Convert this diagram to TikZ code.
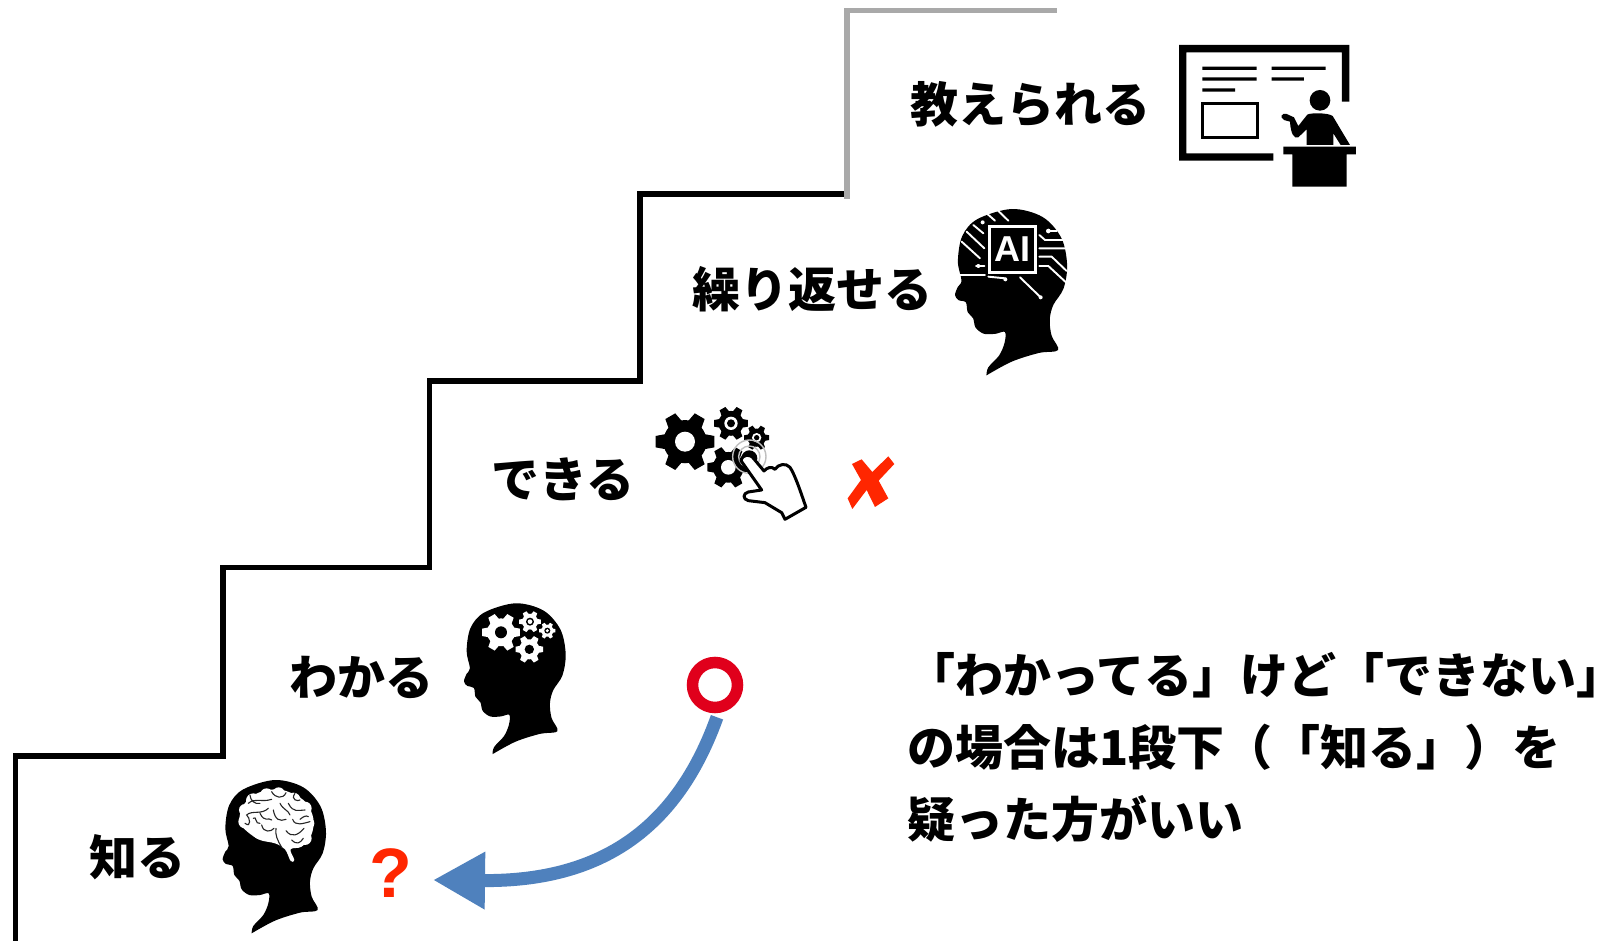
\documentclass[tikz,border=0pt]{standalone}
\usepackage{fontspec}
\setmainfont{Noto Sans CJK JP}
\newfontfamily\haltfont{Noto Sans CJK JP}[RawFeature=+halt]
\newfontfamily\latinb{Liberation Sans}
\usetikzlibrary{arrows.meta}
\definecolor{bluearrow}{HTML}{4F81BD}
\definecolor{redmark}{HTML}{FF2600}
\definecolor{redring}{HTML}{E0001B}
\definecolor{graystep}{HTML}{A9A9A9}
\tikzset{
  lbl/.style={font=\fontsize{48}{72}\selectfont\bfseries, inner sep=0pt, anchor=center},
  stairline/.style={line width=5.4pt, line join=miter},
}
% head silhouette, drawn in 3x crop units
\newcommand{\headshape}{%
  \fill[black] plot[smooth, tension=.55] coordinates {(155,520)(160,498)(190,465)(205,430)(206,400)(180,405)(148,405)(125,388)(118,362)(103,345)(98,318)(78,312)(68,298)(76,275)(86,258)(76,205)(88,135)(130,88)(225,60)(310,82)(362,140)(378,215)(368,280)(340,325)(330,365)(335,410)(353,450)(300,458)(225,482)(155,520)};
}
% #1 x #2 y #3 outer R #4 colour
\newcommand{\cog}[4]{%
  \begin{scope}[shift={(#1,#2)}]
    \fill[#4] (0,0) circle ({#3*.72});
    \foreach \a in {0,60,...,300}{
      \fill[#4, rotate=\a] ({#3*.6},{-#3*.26}) -- ({#3*.98},{-#3*.19}) -- ({#3*.98},{#3*.19}) -- ({#3*.6},{#3*.26}) -- cycle;
    }
  \end{scope}
}
\begin{document}
\begin{tikzpicture}[x=1pt,y=-1pt]
\useasboundingbox (0,0) rectangle (1610,941);
\fill[white] (0,0) rectangle (1610,941);
% stairs
\draw[stairline] (15.5,941) -- (15.5,756) -- (223,756) -- (223,567.5) -- (429.5,567.5) -- (429.5,381) -- (640,381) -- (640,194) -- (847,194);
\draw[line width=5.4pt, graystep] (847,199) -- (847,10.5) -- (1057,10.5);
% labels
\node[lbl] (t1) at (137,857) {知る};
\node[lbl] (t2) at (361,677) {わかる};
\node[lbl] (t3) at (563,479) {できる};
\node[lbl] (t4) at (812,289) {繰り返せる};
\node[lbl] (t5) at (1030,104) {教えられる};
\node[font=\fontsize{48}{72}\selectfont\bfseries, inner sep=0pt, anchor=north west, align=left] (para) at (907,652) {「わかってる」けど「できない{\haltfont\bfseries 」}\\の場合は1段下（「知る」）を\\疑った方がいい};
% head 1: brain
\begin{scope}[shift={(200,760)},x=.3333pt,y=-.3333pt]
  \headshape
  \fill[white] plot[smooth cycle, tension=.6] coordinates {(118,178)(128,140)(152,112)(185,95)(235,88)(280,102)(318,128)(340,175)(334,225)(305,260)(272,268)(283,300)(272,303)(255,268)(225,250)(175,238)(128,202)};
  \fill[white] (135,150) circle (18) (160,122) circle (22) (200,105) circle (20) (236,100) circle (18) (280,120) circle (22) (315,145) circle (20) (325,190) circle (18) (315,235) circle (20) (135,185) circle (20) (180,218) circle (20);
  \draw[black!85, line width=1.1pt, line cap=round] 
    (145,130) .. controls (165,112) and (185,128) .. (215,118)
    (215,95) .. controls (225,115) and (250,118) .. (258,98)
    (135,190) .. controls (155,205) and (150,172) .. (140,165) .. controls (155,150) and (185,165) .. (205,145)
    (220,150) .. controls (225,180) and (240,185) .. (258,178)
    (185,195) .. controls (190,220) and (215,215) .. (222,205)
    (228,205) .. controls (225,225) and (232,240) .. (245,262)
    (265,130) .. controls (280,160) and (295,150) .. (315,150)
    (278,178) .. controls (285,200) and (310,190) .. (330,185)
    (258,212) .. controls (275,235) and (295,225) .. (312,205)
    (275,240) .. controls (290,255) and (300,250) .. (310,235)
    (160,175) .. controls (170,165) and (165,195) .. (180,190)
    (180,160) .. controls (195,190) and (205,170) .. (215,180)
    (285,100) .. controls (270,120) and (295,125) .. (300,120)
    (240,130) .. controls (250,150) and (265,150) .. (270,165)
    (150,105) .. controls (150,120) and (165,135) .. (180,130)
    (300,178) .. controls (310,170) and (318,165) .. (325,170);
\end{scope}
% head 2: gears
\begin{scope}[shift={(441.7,583.6)},x=.328pt,y=-.328pt]
  \headshape
\end{scope}
\begin{scope}[shift={(440,590)},x=.3333pt,y=-.3333pt]
  \cog{183}{127}{58}{white}
  \fill[black] (183,127) circle (18);
  \cog{270}{95}{33}{white}
  \fill[black] (270,95) circle (12); \fill[white] (270,95) circle (7);
  \cog{322}{122}{25}{white}
  \fill[black] (322,122) circle (9); \fill[white] (322,122) circle (5);
  \cog{268}{178}{42}{white}
  \fill[black] (268,178) circle (14);
\end{scope}
% gears and hand
\begin{scope}[shift={(640,390)},x=.3333pt,y=-.3333pt]
  \cog{135}{155}{90}{black}
  \fill[white] (135,155) circle (30);
  \cog{273}{100}{52}{black}
  \fill[white] (273,100) circle (20); \fill[black] (273,100) circle (12);
  \cog{350}{143}{38}{black}
  \fill[white] (350,143) circle (14); \fill[black] (350,143) circle (8);
  \cog{265}{232}{64}{black}
  \fill[white] (265,232) circle (22);
  \draw[gray!50, line width=1.4pt] (328,200) circle (50);
  \draw[gray!50, line width=1.4pt] (328,200) circle (32);
  \fill[black] (328,205) circle (24);
  \filldraw[fill=white, draw=black, line width=3pt, line join=round] (303,212) .. controls (308,192) and (330,190) .. (342,207) -- (372,243) .. controls (382,232) and (395,228) .. (405,238) .. controls (415,222) and (438,218) .. (450,232) .. controls (465,255) and (480,300) .. (498,352) -- (435,388) -- (425,368) -- (375,338) -- (325,332) .. controls (308,328) and (308,310) .. (325,306) -- (365,300) -- cycle;
  % cross
  \fill[redmark] (636,222) -- (665,208) -- (697,246) -- (745,199) -- (763,222) -- (716,272) -- (745,325) -- (705,351) -- (680,300) -- (637,357) -- (623,325) -- (663,270) -- cycle;
\end{scope}
% head 3: AI
\begin{scope}[shift={(930.4,187.3)},x=.3617pt,y=-.3617pt]
  \headshape
\end{scope}
\begin{scope}[shift={(940,200)},x=.3333pt,y=-.3333pt]
  \draw[white, line width=3.2pt] (148,80) rectangle (286,218);
  \node[text=white, inner sep=0pt, font=\fontsize{36}{36}\latinb\bfseries] (ai) at (217,148) {AI};
  \draw[white, line width=1.9pt, line cap=round, line join=round]
    (60,225) -- (135,225) (65,125) -- (120,175) (80,95) -- (133,145) (100,75) -- (130,100)
    (140,40) -- (165,62) (175,33) -- (205,62) (108,198) -- (133,198)
    (298,105) -- (315,120) -- (370,120) (298,145) -- (375,145) (298,170) -- (335,170) -- (380,213)
    (298,198) -- (325,198) -- (378,247) (325,93) -- (350,93) (240,232) -- (302,292) (145,230) -- (195,235);
  \fill[white] (128,67) circle (6) (325,93) circle (7) (115,198) circle (6) (302,292) circle (6) (196,238) circle (6);
\end{scope}
% teacher
\begin{scope}[shift={(1170,30)},x=.3333pt,y=-.3333pt]
  \fill[black] (27,45) -- (538,45) -- (538,215) -- (516,215) -- (516,67) -- (49,67) -- (49,370) -- (310,370) -- (310,392) -- (27,392) -- cycle;
  \fill[black] (97,110) rectangle (260,120) (305,110) rectangle (467,120) (97,142) rectangle (260,152) (305,142) rectangle (402,152) (97,175) rectangle (195,185);
  \draw[black, line width=3pt] (97,222) rectangle (262,322);
  \fill[black] (450,211) circle (31);
  \fill[black] (410,345) -- (410,298) -- (385,322) .. controls (372,328) and (362,310) .. (360,275) -- (342,270) .. controls (328,262) and (335,248) .. (350,252) -- (372,262) -- (385,288) -- (412,254) .. controls (420,248) and (475,248) .. (488,258) -- (540,345) -- (512,345) -- (490,310) -- (490,345) -- cycle;
  \fill[black] (340,350) rectangle (558,373) (367,373) rectangle (530,470);
\end{scope}
% question mark
\node[inner sep=0pt, text=redmark, font=\fontsize{70}{70}\latinb\bfseries] (qm) at (391,873) {?};
% ring and arrow
\coordinate (tip) at (433,880);
\node[circle, draw=redring, line width=11.5pt, minimum size=45pt, inner sep=0pt, fill=white] (ok) at (715,685) {};
\draw[bluearrow, line width=13pt, -{Triangle[length=52pt,width=54pt]}] (ok.south) ++(2,4) .. controls (680,820) and (610,882) .. (tip);
\end{tikzpicture}
\end{document}
